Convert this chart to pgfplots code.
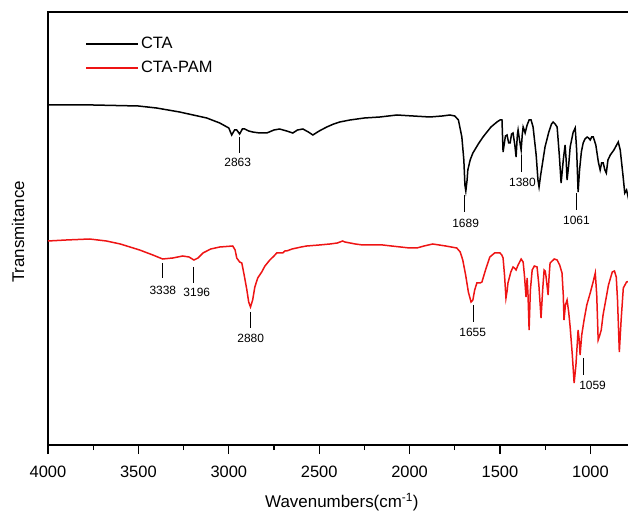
\documentclass[border=0pt]{standalone}
\usepackage{fontspec}
\setmainfont{Liberation Sans}
\usepackage{pgfplots}
\pgfplotsset{compat=1.18}
\definecolor{ftred}{RGB}{238,20,20}
\begin{document}
\begin{tikzpicture}
\begin{axis}[
  scale only axis, width=582bp, height=433bp,
  x dir=reverse, xmin=781, xmax=4000, ymin=0, ymax=433,
  ytick=\empty,
  xtick={1000,1500,...,4000},
  minor x tick num=1,
  xtick pos=bottom,
  tick align=outside, major tick length=9bp, minor tick length=5bp,
  axis line style={line width=1.5bp},
  every tick/.style={black, line width=1.2bp},
  /pgf/number format/assume math mode=true,
  /pgf/number format/1000 sep={},
  xticklabel style={font=\fontsize{16.5}{19}\selectfont, anchor=center, yshift=-18bp},
  xlabel={Wavenumbers(cm\textsuperscript{-1})},
  ylabel={Transmitance},
  xlabel style={font=\fontsize{17}{20}\selectfont, at={(axis description cs:0.505,-0.132)}, anchor=center},
  ylabel style={font=\fontsize{17}{20}\selectfont, at={(axis description cs:-0.0515,0.492)}, anchor=center},
  legend style={draw=none, fill=none, at={(axis description cs:0.064,0.949)}, anchor=north west,
    font=\fontsize{16.5}{19}\selectfont, inner sep=0pt, row sep=5bp,
    nodes={inner sep=2bp, text height=12bp, text depth=3bp}},
  legend cell align=left,
  legend image code/.code={\draw[line width=1.6bp, #1] (0bp,0bp) -- (52bp,0bp);},
]
\addplot[black, line width=1.5bp] coordinates {
(4000,340) (3750,340) (3500,339) (3400,337) (3272,333) (3122,327) (3050,322) (3000,317)
(2984,310) (2968,315) (2956,315) (2940,311) (2925,316) (2912,316) (2890,314) (2868,313)
(2830,312) (2790,312) (2750,315) (2719,316) (2680,314) (2646,312) (2620,315) (2590,316)
(2560,313) (2535,310) (2500,314) (2458,318) (2420,321) (2386,323) (2330,325) (2250,327)
(2164,328) (2070,330) (1980,329) (1888,328) (1820,329) (1777,330) (1750,329) (1730,325)
(1711,308) (1700,285) (1694,260) (1689,254) (1682,265) (1678,275) (1665,285) (1650,292)
(1620,301) (1594,308) (1550,318) (1517,323) (1500,325) (1489,325) (1483,293) (1470,309)
(1461,310) (1452,302) (1444,302) (1436,311) (1428,312) (1418,300) (1411,288) (1404,310)
(1400,315) (1392,305) (1383,295) (1377,310) (1372,318) (1366,315) (1361,312) (1350,320)
(1339,325) (1328,325) (1317,318) (1300,290) (1290,265) (1284,258) (1275,270) (1251,298)
(1230,313) (1215,321) (1206,323) (1195,321) (1184,318) (1172,290) (1162,262) (1150,285)
(1140,300) (1134,285) (1129,265) (1120,280) (1112,298) (1095,313) (1084,317) (1076,295)
(1068,253) (1060,275) (1050,293) (1040,302) (1030,306) (1018,308) (1010,307) (1001,305)
(993,308) (984,308) (970,300) (956,283) (946,275) (938,282) (929,282) (920,275)
(912,272) (903,285) (890,290) (870,295) (846,303) (835,295) (820,270) (810,252)
(800,255) (790,247) (781,250)
};
\addlegendentry{CTA}
\addplot[ftred, line width=1.5bp] coordinates {
(4000,204) (3900,205) (3770,206) (3677,204) (3600,201) (3493,195) (3420,190) (3366,186)
(3310,187) (3255,189) (3220,188) (3193,185) (3170,187) (3143,192) (3100,196) (3050,198)
(2978,199) (2965,195) (2956,187) (2940,183) (2928,182) (2915,170) (2900,155) (2890,143)
(2880,138) (2868,145) (2856,158) (2840,167) (2818,173) (2800,179) (2773,185) (2750,189)
(2735,192) (2702,192) (2690,194) (2680,194) (2650,196) (2600,198) (2569,199) (2500,200)
(2441,201) (2400,202) (2370,204) (2358,203) (2300,201) (2259,200) (2200,200) (2148,200)
(2100,199) (2050,198) (2000,197) (1960,197) (1920,199) (1872,201) (1800,199) (1739,197)
(1720,193) (1706,185) (1690,170) (1675,153) (1660,143) (1650,145) (1640,155) (1628,162)
(1610,162) (1600,163) (1580,175) (1556,188) (1530,192) (1500,192) (1490,190) (1483,187)
(1475,170) (1467,147) (1460,155) (1456,162) (1440,173) (1428,178) (1420,177) (1411,175)
(1400,180) (1383,186) (1372,183) (1365,170) (1356,148) (1352,160) (1350,167) (1345,150)
(1339,115) (1332,155) (1322,175) (1310,179) (1295,178) (1285,160) (1273,127) (1264,155)
(1256,175) (1250,174) (1245,168) (1234,150) (1228,170) (1223,182) (1200,186) (1184,185)
(1170,180) (1157,172) (1150,150) (1146,125) (1138,140) (1129,145) (1120,133) (1112,118)
(1100,90) (1090,62) (1080,80) (1068,115) (1062,105) (1057,90) (1048,110) (1035,125)
(1020,140) (1001,152) (985,163) (973,172) (965,150) (957,105) (948,110) (940,115)
(930,130) (918,142) (900,160) (879,173) (867,174) (857,168) (850,145) (840,93)
(830,125) (818,157) (800,163) (781,164)
};
\addlegendentry{CTA-PAM}
% peak annotations
\draw[line width=1.2bp] (axis cs:2940,308) -- (axis cs:2940,292);
\node[font=\fontsize{12}{14}\selectfont] at (axis cs:2951,283) {2863};
\draw[line width=1.2bp] (axis cs:1696,250) -- (axis cs:1696,233);
\node[font=\fontsize{12}{14}\selectfont] at (axis cs:1690,222) {1689};
\draw[line width=1.2bp] (axis cs:1381,290) -- (axis cs:1381,273);
\node[font=\fontsize{12}{14}\selectfont] at (axis cs:1376,263) {1380};
\draw[line width=1.2bp] (axis cs:1077,252) -- (axis cs:1077,235);
\node[font=\fontsize{12}{14}\selectfont] at (axis cs:1077,225) {1061};
\draw[line width=1.2bp] (axis cs:3365,182) -- (axis cs:3365,167);
\node[font=\fontsize{12}{14}\selectfont] at (axis cs:3365,155) {3338};
\draw[line width=1.2bp] (axis cs:3194,178) -- (axis cs:3194,162);
\node[font=\fontsize{12}{14}\selectfont] at (axis cs:3177,153) {3196};
\draw[line width=1.2bp] (axis cs:2879,133) -- (axis cs:2879,117);
\node[font=\fontsize{12}{14}\selectfont] at (axis cs:2879,107) {2880};
\draw[line width=1.2bp] (axis cs:1646,140) -- (axis cs:1646,123);
\node[font=\fontsize{12}{14}\selectfont] at (axis cs:1651,113) {1655};
\draw[line width=1.2bp] (axis cs:1037,87) -- (axis cs:1037,70);
\node[font=\fontsize{12}{14}\selectfont] at (axis cs:988,60) {1059};
\end{axis}
\pgfresetboundingbox
\path (-48bp,-70bp) rectangle (580bp,445bp);
\end{tikzpicture}
\end{document}
